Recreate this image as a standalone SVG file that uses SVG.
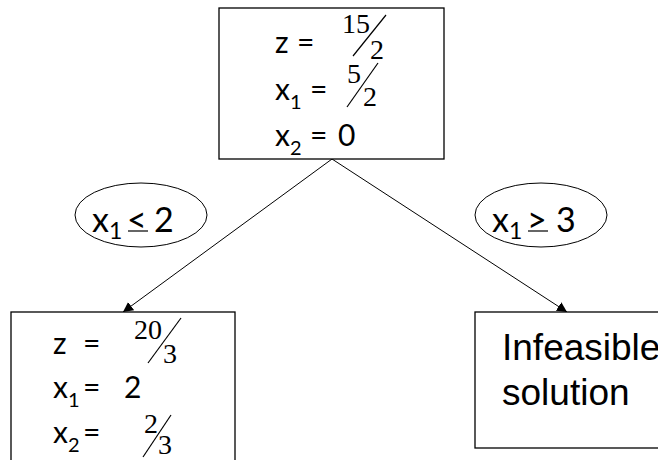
<svg xmlns="http://www.w3.org/2000/svg" width="658" height="460" viewBox="0 0 658 460">
<style>
.box{fill:#fff;stroke:#000;stroke-width:1.3}
.el{fill:#fff;stroke:#000;stroke-width:1}
.t{font-family:Lato,"Liberation Sans",sans-serif;font-size:30px;fill:#000}
.s{font-family:Lato,"Liberation Sans",sans-serif;font-size:20px;fill:#000}
.e{font-family:Lato,"Liberation Sans",sans-serif;font-size:34px;fill:#000}
.es{font-family:Lato,"Liberation Sans",sans-serif;font-size:23px;fill:#000}
.f{font-family:"Liberation Serif",serif;font-size:28px;fill:#000}
.a{font-family:"Liberation Sans",Arial,sans-serif;font-size:37px;fill:#000}
.sl{stroke:#000;stroke-width:1.2}
.c{stroke:#000;stroke-width:1;fill:none}
</style>
<defs>
<marker id="ah" viewBox="0 0 10 10" refX="10" refY="5" markerWidth="10" markerHeight="10" markerUnits="userSpaceOnUse" orient="auto">
<path d="M0,0 L10,5 L0,10 z" fill="#000"/>
</marker>
</defs>
<g id="connectors">
<line class="c" x1="332" y1="159" x2="123" y2="312" marker-end="url(#ah)"/>
<line class="c" x1="332" y1="159" x2="567" y2="312" marker-end="url(#ah)"/>
</g>
<g id="root">
<rect class="box" x="219" y="8" width="225" height="151"/>
<text class="t" x="275" y="53">z</text><text class="t" x="297" y="53">=</text>
<text class="f" x="342" y="33">15</text>
<line class="sl" x1="353" y1="56" x2="386" y2="15"/>
<text class="f" x="370" y="59">2</text>
<text class="t" x="275" y="100">x</text><text class="s" x="290" y="109">1</text><text class="t" x="310" y="100">=</text>
<text class="f" x="347" y="83">5</text>
<line class="sl" x1="347" y1="107" x2="378" y2="63"/>
<text class="f" x="363" y="106">2</text>
<text class="t" x="275" y="146">x</text><text class="s" x="290" y="155">2</text><text class="t" x="310" y="146">=</text><text class="t" x="338" y="146">0</text>
</g>
<g id="left-cond">
<ellipse class="el" cx="141" cy="215" rx="66" ry="32"/>
<text class="e" x="92" y="232">x</text><text class="es" x="109" y="239">1</text><text class="e" x="127" y="232">&lt;</text>
<line class="sl" x1="128" y1="231" x2="148" y2="231"/>
<text class="e" x="154" y="232">2</text>
</g>
<g id="right-cond">
<ellipse class="el" cx="541" cy="215" rx="66" ry="32"/>
<text class="e" x="492" y="232">x</text><text class="es" x="509" y="239">1</text><text class="e" x="527" y="232">&gt;</text>
<line class="sl" x1="528" y1="231" x2="548" y2="231"/>
<text class="e" x="556" y="232">3</text>
</g>
<g id="left-child">
<rect class="box" x="11" y="312" width="224" height="170"/>
<text class="t" x="53" y="354">z</text><text class="t" x="83" y="354">=</text>
<text class="f" x="134" y="339">20</text>
<line class="sl" x1="148" y1="363" x2="181" y2="318"/>
<text class="f" x="163" y="363">3</text>
<text class="t" x="53" y="398">x</text><text class="s" x="68" y="407">1</text><text class="t" x="83" y="398">=</text><text class="t" x="124" y="398">2</text>
<text class="t" x="53" y="443">x</text><text class="s" x="68" y="452">2</text><text class="t" x="83" y="443">=</text>
<text class="f" x="144" y="433">2</text>
<line class="sl" x1="143" y1="457" x2="171" y2="415"/>
<text class="f" x="158" y="454">3</text>
</g>
<g id="right-child">
<rect class="box" x="475" y="312" width="230" height="136"/>
<text class="a" x="502" y="360">Infeasible</text>
<text class="a" x="502" y="405">solution</text>
</g>
</svg>
